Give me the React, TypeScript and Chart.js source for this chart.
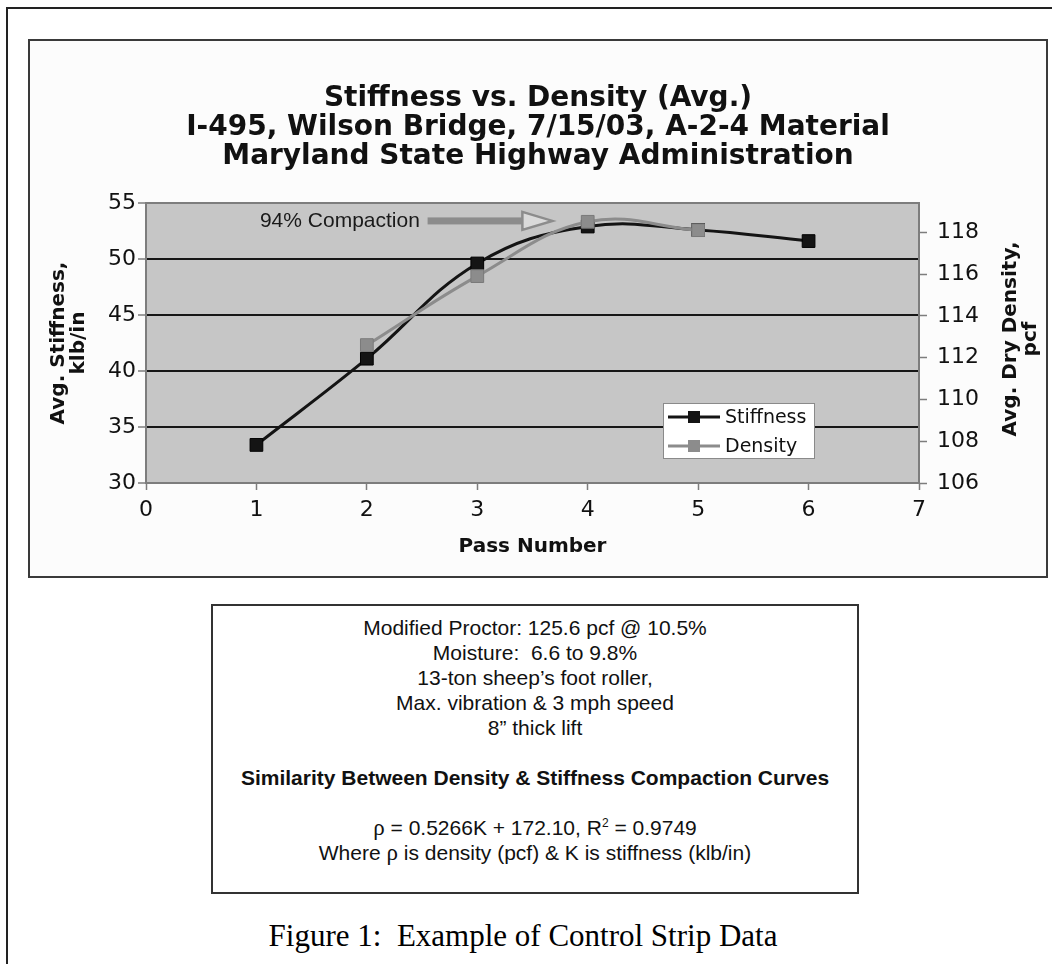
import React, { useEffect, useRef } from "react";
import { Chart, registerables } from "chart.js";

Chart.register(...registerables);

// ---------- data ----------
const passNumbers = [1, 2, 3, 4, 5, 6];
const stiffnessValues = [33.4, 41.1, 49.6, 52.9, 52.6, 51.6];
const densityValues: (number | null)[] = [null, 112.6, 115.9, 118.5, 118.1, null];
const seriesLabels = ["Stiffness", "Density"];
const xTicks = [0, 1, 2, 3, 4, 5, 6, 7];
const stiffnessTicks = [30, 35, 40, 45, 50, 55];
const densityTicks = [106, 108, 110, 112, 114, 116, 118];
const densityMax = 119.4;
const titleLines = [
  "Stiffness vs. Density (Avg.)",
  "I-495, Wilson Bridge, 7/15/03, A-2-4 Material",
  "Maryland State Highway Administration",
];
const leftAxisTitle = ["Avg. Stiffness,", "klb/in"];
const rightAxisTitle = ["Avg. Dry Density,", "pcf"];
const xAxisTitle = "Pass Number";
const annotationText = "94% Compaction";
const annotationAt = { y: 53.4, textEndX: 2.48, arrowFromX: 2.55, arrowToX: 3.68 };
const noteLines = [
  "Modified Proctor: 125.6 pcf @ 10.5%",
  "Moisture:  6.6 to 9.8%",
  "13-ton sheep\u2019s foot roller,",
  "Max. vibration & 3 mph speed",
  "8\u201d thick lift",
];
const noteHeading = "Similarity Between Density & Stiffness Compaction Curves";
const equationParts = { lhs: "\u03c1", rhs: " = 0.5266K + 172.10, R", sup: "2", tail: " = 0.9749" };
const whereParts = ["Where ", "\u03c1", " is density (pcf) & K is stiffness (klb/in)"];
const captionText = "Figure 1:  Example of Control Strip Data";

// ---------- styles ----------
const CHART_FONT = '"DejaVu Sans", Verdana, sans-serif';
const ARIAL = '"Liberation Sans", Arial, sans-serif';
const TIMES = '"Liberation Serif", "Times New Roman", serif';
const STIFF_COLOR = "#141414";
const DENS_COLOR = "#8c8c8c";
const PLOT_BG = "#c6c6c6";
const AXIS_GRAY = "#7d7d7d";
const GRID_BLACK = "#161616";
const TEXT = "#111111";

const CANVAS_W = 1016;
const CANVAS_H = 535;

const decorPlugin = {
  id: "decor",
  beforeDraw(chart: any) {
    const { ctx, chartArea: a } = chart;
    ctx.save();
    ctx.fillStyle = "#fcfcfc";
    ctx.fillRect(0, 0, chart.width, chart.height);
    ctx.fillStyle = PLOT_BG;
    ctx.fillRect(a.left, a.top, a.right - a.left, a.bottom - a.top);
    ctx.restore();
  },
  beforeDatasetsDraw(chart: any) {
    const { ctx } = chart;
    const xs = chart.scales.x;
    const ys = chart.scales.y;
    const yy = ys.getPixelForValue(annotationAt.y);
    ctx.save();
    ctx.font = `21px ${ARIAL}`;
    ctx.fillStyle = "#1a1a1a";
    ctx.textAlign = "right";
    ctx.textBaseline = "middle";
    ctx.fillText(annotationText, xs.getPixelForValue(annotationAt.textEndX), yy);
    const x0 = xs.getPixelForValue(annotationAt.arrowFromX);
    const x2 = xs.getPixelForValue(annotationAt.arrowToX);
    const x1 = x2 - 30;
    ctx.fillStyle = DENS_COLOR;
    ctx.fillRect(x0, yy - 3.5, x1 - x0, 7);
    ctx.beginPath();
    ctx.moveTo(x1, yy - 9);
    ctx.lineTo(x2, yy);
    ctx.lineTo(x1, yy + 9);
    ctx.closePath();
    ctx.fillStyle = "#dadada";
    ctx.fill();
    ctx.strokeStyle = DENS_COLOR;
    ctx.lineWidth = 2.5;
    ctx.stroke();
    ctx.restore();
  },
  afterDraw(chart: any) {
    const { ctx, chartArea: a } = chart;
    ctx.save();
    ctx.fillStyle = TEXT;
    // title
    ctx.font = `bold 28px ${CHART_FONT}`;
    ctx.textAlign = "center";
    ctx.textBaseline = "middle";
    const titleYs = [58, 87, 116];
    titleLines.forEach((t, i) => ctx.fillText(t, CANVAS_W / 2, titleYs[i]));

    // x axis title
    ctx.font = `bold 20px ${CHART_FONT}`;
    ctx.fillText(xAxisTitle, (a.left + a.right) / 2, 506);

    // left axis title
    const midY = (a.top + a.bottom) / 2;
    ctx.save();
    ctx.translate(39, midY);
    ctx.rotate(-Math.PI / 2);
    ctx.fillText(leftAxisTitle[0], 0, -10);
    ctx.fillText(leftAxisTitle[1], 0, 10);
    ctx.restore();

    // right axis title
    ctx.save();
    ctx.translate(991, midY - 4);
    ctx.rotate(-Math.PI / 2);
    ctx.fillText(rightAxisTitle[0], 0, -10);
    ctx.fillText(rightAxisTitle[1], 0, 10);
    ctx.restore();

    // right plot border
    ctx.strokeStyle = AXIS_GRAY;
    ctx.lineWidth = 2;
    ctx.beginPath();
    ctx.moveTo(a.right, a.top);
    ctx.lineTo(a.right, a.bottom);
    ctx.stroke();

    // legend
    const lx = 633;
    const ly = 362;
    const lw = 152;
    const lh = 56;
    ctx.fillStyle = "#ffffff";
    ctx.fillRect(lx, ly, lw, lh);
    ctx.strokeStyle = "#8a8a8a";
    ctx.lineWidth = 1;
    ctx.strokeRect(lx + 0.5, ly + 0.5, lw - 1, lh - 1);
    const colors = [STIFF_COLOR, DENS_COLOR];
    seriesLabels.forEach((label, i) => {
      const y = ly + 14 + i * 29;
      ctx.strokeStyle = colors[i];
      ctx.lineWidth = 3;
      ctx.beginPath();
      ctx.moveTo(lx + 5, y);
      ctx.lineTo(lx + 57, y);
      ctx.stroke();
      ctx.fillStyle = colors[i];
      ctx.fillRect(lx + 25, y - 6, 12, 12);
      ctx.fillStyle = TEXT;
      ctx.font = `19px ${CHART_FONT}`;
      ctx.textAlign = "left";
      ctx.textBaseline = "middle";
      ctx.fillText(label, lx + 62, y + 1);
    });
    ctx.restore();
  },
};

const tickFont = { family: CHART_FONT, size: 22 };

export default function App() {
  const ref = useRef<HTMLCanvasElement>(null);

  useEffect(() => {
    const canvas = ref.current;
    if (!canvas) return;
    const stiffnessData = passNumbers.map((x, i) => ({ x, y: stiffnessValues[i] }));
    const densityData = passNumbers
      .map((x, i) => ({ x, y: densityValues[i] }))
      .filter((p) => p.y !== null);

    const chart = new Chart(canvas, {
      type: "line",
      data: {
        datasets: [
          {
            label: seriesLabels[0],
            data: stiffnessData as any,
            yAxisID: "y",
            borderColor: STIFF_COLOR,
            backgroundColor: STIFF_COLOR,
            borderWidth: 3,
            pointStyle: "rect",
            pointRadius: 9,
            pointBorderWidth: 1,
            pointBorderColor: "#000",
            pointBackgroundColor: STIFF_COLOR,
            tension: 0.4,
            order: 2,
          },
          {
            label: seriesLabels[1],
            data: densityData as any,
            yAxisID: "y1",
            borderColor: DENS_COLOR,
            backgroundColor: DENS_COLOR,
            borderWidth: 3,
            pointStyle: "rect",
            pointRadius: 9,
            pointBorderWidth: 1,
            pointBorderColor: "#7a7a7a",
            pointBackgroundColor: DENS_COLOR,
            tension: 0.4,
            order: 1,
          },
        ],
      },
      options: {
        responsive: false,
        animation: false,
        layout: { padding: { top: 162, left: 0, right: 0, bottom: 0 } },
        plugins: {
          legend: { display: false },
          title: { display: false },
          tooltip: { enabled: false },
        },
        scales: {
          x: {
            type: "linear",
            position: "bottom",
            min: 0,
            max: 7,
            afterBuildTicks: (s: any) => {
              s.ticks = xTicks.map((v) => ({ value: v }));
            },
            afterFit: (s: any) => {
              s.height = 93;
            },
            grid: {
              drawOnChartArea: false,
              drawTicks: true,
              tickLength: 7,
              tickColor: AXIS_GRAY,
              tickWidth: 1.5,
            },
            border: { display: true, color: AXIS_GRAY, width: 2 },
            ticks: {
              font: tickFont,
              color: TEXT,
              padding: 7,
              maxRotation: 0,
              autoSkip: false,
            },
          },
          y: {
            type: "linear",
            position: "left",
            min: 30,
            max: 55,
            afterBuildTicks: (s: any) => {
              s.ticks = stiffnessTicks.map((v) => ({ value: v }));
            },
            afterFit: (s: any) => {
              s.width = 116;
            },
            grid: {
              color: (c: any) =>
                c.tick && (c.tick.value === 30 || c.tick.value === 55) ? AXIS_GRAY : GRID_BLACK,
              lineWidth: 2,
              drawTicks: true,
              tickLength: 8,
              tickColor: AXIS_GRAY,
              tickWidth: 1.5,
            },
            border: { display: true, color: AXIS_GRAY, width: 2 },
            ticks: { font: tickFont, color: TEXT, padding: 2 },
          },
          y1: {
            type: "linear",
            position: "right",
            min: 106,
            max: densityMax,
            afterBuildTicks: (s: any) => {
              s.ticks = densityTicks.map((v) => ({ value: v }));
            },
            afterFit: (s: any) => {
              s.width = CANVAS_W - 889;
            },
            grid: {
              drawOnChartArea: false,
              drawTicks: true,
              tickLength: 8,
              tickColor: AXIS_GRAY,
              tickWidth: 1.5,
            },
            border: { display: true, color: AXIS_GRAY, width: 2 },
            ticks: { font: tickFont, color: TEXT, padding: 10 },
          },
        },
      } as any,
      plugins: [decorPlugin],
    });
    return () => chart.destroy();
  }, []);

  return (
    <div
      style={{
        position: "absolute",
        left: 0,
        top: 0,
        width: 1052,
        height: 964,
        background: "#ffffff",
        overflow: "hidden",
      }}
    >
      <div
        style={{
          position: "absolute",
          left: 6,
          top: 7,
          width: 1100,
          height: 1000,
          borderLeft: "2px solid #222",
          borderTop: "2px solid #222",
        }}
      />
      <div
        style={{
          position: "absolute",
          left: 28,
          top: 39,
          width: 1020,
          height: 539,
          border: "2px solid #3a3a3a",
          boxSizing: "border-box",
          background: "#fcfcfc",
        }}
      >
        <canvas
          ref={ref}
          width={CANVAS_W}
          height={CANVAS_H}
          style={{ display: "block", width: CANVAS_W, height: CANVAS_H }}
        />
      </div>
      <div
        style={{
          position: "absolute",
          left: 211,
          top: 604,
          width: 648,
          height: 290,
          border: "2px solid #333",
          boxSizing: "border-box",
          background: "#ffffff",
          fontFamily: ARIAL,
          fontSize: 21,
          lineHeight: "25px",
          textAlign: "center",
          color: TEXT,
          paddingTop: 9,
          whiteSpace: "pre",
        }}
      >
        {noteLines.map((t, i) => (
          <div key={i}>{t}</div>
        ))}
        <div>{"\u00a0"}</div>
        <div style={{ fontWeight: "bold" }}>{noteHeading}</div>
        <div>{"\u00a0"}</div>
        <div>
          <span style={{ fontFamily: TIMES, fontSize: 23 }}>{equationParts.lhs}</span>
          {equationParts.rhs}
          <span style={{ fontSize: 12, verticalAlign: "8px", lineHeight: 0 }}>{equationParts.sup}</span>
          {equationParts.tail}
        </div>
        <div>
          {whereParts[0]}
          <span style={{ fontFamily: TIMES, fontSize: 23 }}>{whereParts[1]}</span>
          {whereParts[2]}
        </div>
      </div>
      <div
        style={{
          position: "absolute",
          left: 0,
          top: 918,
          width: 1046,
          textAlign: "center",
          fontFamily: TIMES,
          fontSize: 31,
          lineHeight: "36px",
          color: "#000",
          whiteSpace: "pre",
        }}
      >
        {captionText}
      </div>
    </div>
  );
}
